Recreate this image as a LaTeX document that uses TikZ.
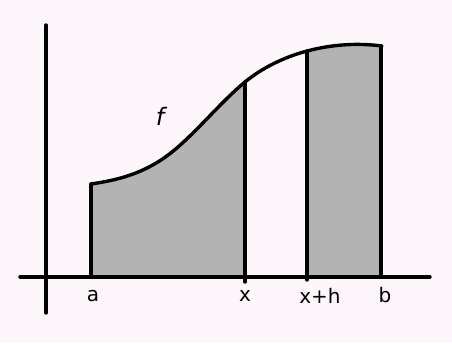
\documentclass[tikz,border=0pt]{standalone}
\usepackage{fontspec}
\setmainfont{DejaVu Sans}
\begin{document}
\begin{tikzpicture}[x=1pt,y=-1pt,
  ln/.style={line width=3.4pt,line cap=round,line join=round},
  lbl/.style={font=\fontsize{20}{20}\selectfont,inner sep=0pt}]
\definecolor{bgc}{RGB}{253,247,252}
\definecolor{areagray}{RGB}{179,179,179}
\fill[bgc] (0,0) rectangle (452,343);
\useasboundingbox (0,0) rectangle (452,343);
% shaded regions
\begin{scope}
  \clip (91,0) rectangle (245,277);
  \fill[areagray] (91,277) -- (91,184) .. controls (118,180) and (145,173.6) .. (172,152) .. controls (196,132.8) and (221,101.7) .. (245,82) .. controls (280,53.3) and (332,39.5) .. (382,46) -- (382,277) -- cycle;
\end{scope}
\begin{scope}
  \clip (307,0) rectangle (382,277);
  \fill[areagray] (91,277) -- (91,184) .. controls (118,180) and (145,173.6) .. (172,152) .. controls (196,132.8) and (221,101.7) .. (245,82) .. controls (280,53.3) and (332,39.5) .. (382,46) -- (382,277) -- cycle;
\end{scope}
% axes
\coordinate (yt) at (46,25);
\coordinate (yb) at (46,313);
\coordinate (xl) at (20,277);
\coordinate (xr) at (430,277);
\draw[ln] (yt) -- (yb);
\draw[ln] (xl) -- (xr);
% curve
\coordinate (c0) at (91,184);
\coordinate (c1) at (172,152);
\coordinate (c2) at (245,82);
\coordinate (c3) at (382,46);
\draw[ln] (c0) .. controls (118,180) and (145,173.6) .. (c1) .. controls (196,132.8) and (221,101.7) .. (c2) .. controls (280,53.3) and (332,39.5) .. (c3);
% verticals
\coordinate (a0) at (91,277); \coordinate (a1) at (91,184);
\coordinate (x0) at (245,282); \coordinate (x1) at (245,82);
\coordinate (h0) at (307,280); \coordinate (h1) at (307,51);
\coordinate (b0) at (381,275); \coordinate (b1) at (381,46);
\draw[ln] (a0) -- (a1);
\draw[ln] (x0) -- (x1);
\draw[ln] (h0) -- (h1);
\draw[ln] (b0) -- (b1);
% labels
\node[lbl] (la) at (93,296) {a};
\node[lbl] (lx) at (245,296) {x};
\node[lbl] (lxh) at (320,296) {x+h};
\node[lbl] (lb) at (385,295) {b};
\node[lbl,font=\fontsize{24}{24}\selectfont\itshape] (lf) at (160,116) {f};
\end{tikzpicture}
\end{document}
